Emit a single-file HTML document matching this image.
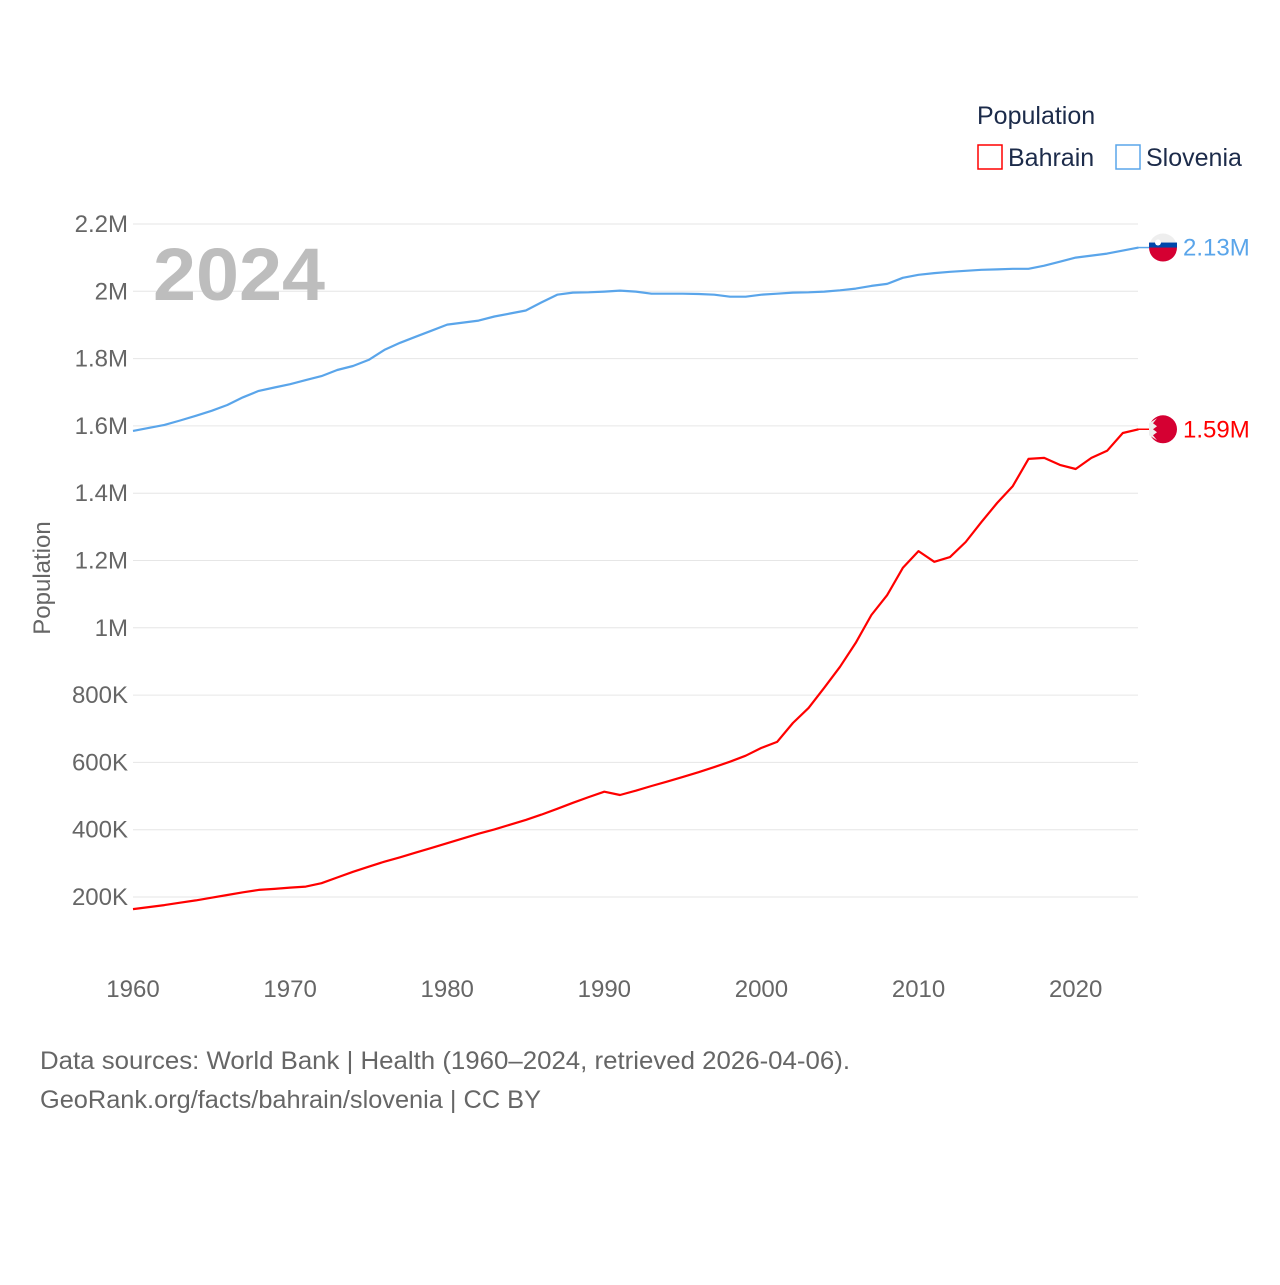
<!DOCTYPE html>
<html><head><meta charset="utf-8"><style>
body{margin:0;background:#fff;font-family:"Liberation Sans",sans-serif}
</style></head><body>
<svg width="1280" height="1280" xmlns="http://www.w3.org/2000/svg" font-family="Liberation Sans, sans-serif">
<g id="grid"></g><g id="yticks"></g><g id="xticks"></g>
<text x="153" y="300" font-size="74" font-weight="bold" fill="#bdbdbd" textLength="172" lengthAdjust="spacingAndGlyphs">2024</text>
<text transform="translate(50,578) rotate(-90)" text-anchor="middle" font-size="24" fill="#666">Population</text>
<g id="lines"></g>
<g>
<text x="977" y="124" font-size="25" fill="#1c2b4a">Population</text>
<g><rect x="978" y="145" width="24" height="24" fill="none" stroke="#ff0000" stroke-width="1.5"/><text x="1008" y="166" font-size="25" fill="#1c2b4a">Bahrain</text></g>
<g><rect x="1116" y="145" width="24" height="24" fill="none" stroke="#5aa5ea" stroke-width="1.5"/><text x="1146" y="166" font-size="25" fill="#1c2b4a">Slovenia</text></g>
</g>
<text x="40" y="1069" font-size="25" fill="#666" textLength="810" lengthAdjust="spacingAndGlyphs">Data sources: World Bank | Health (1960–2024, retrieved 2026-04-06).</text>
<text x="40" y="1108" font-size="25" fill="#666" textLength="501" lengthAdjust="spacingAndGlyphs">GeoRank.org/facts/bahrain/slovenia | CC BY</text>
</svg>
<script>
const years=[];for(let y=1960;y<=2024;y++)years.push(y);
const yTicks=[200000,400000,600000,800000,1000000,1200000,1400000,1600000,1800000,2000000,2200000];
const yTickLabels=["200K","400K","600K","800K","1M","1.2M","1.4M","1.6M","1.8M","2M","2.2M"];
const xTicks=[1960,1970,1980,1990,2000,2010,2020];
const bahrain=[0.164,0.170,0.176,0.183,0.190,0.198,0.206,0.214,0.221,0.224,0.228,0.231,0.241,0.258,0.275,0.290,0.305,0.318,0.332,0.346,0.360,0.374,0.388,0.401,0.415,0.429,0.445,0.462,0.480,0.497,0.513,0.503,0.516,0.530,0.543,0.557,0.571,0.586,0.602,0.620,0.643,0.661,0.717,0.762,0.822,0.884,0.955,1.038,1.097,1.178,1.228,1.196,1.210,1.255,1.314,1.371,1.421,1.502,1.505,1.484,1.472,1.505,1.526,1.579,1.590];
const slovenia=[1.585,1.594,1.603,1.616,1.630,1.645,1.662,1.685,1.704,1.714,1.724,1.736,1.748,1.766,1.778,1.796,1.826,1.847,1.865,1.883,1.901,1.907,1.913,1.925,1.934,1.943,1.967,1.990,1.996,1.997,1.999,2.002,1.999,1.993,1.993,1.993,1.992,1.990,1.984,1.984,1.990,1.993,1.996,1.997,1.999,2.003,2.008,2.016,2.022,2.040,2.049,2.054,2.058,2.061,2.064,2.065,2.067,2.067,2.076,2.088,2.100,2.106,2.112,2.121,2.130];
const X=y=>133+(y-1960)*(1138.5-133)/64;
const Y=v=>964.3-v*336.5/1e6;
const NS="http://www.w3.org/2000/svg";
function mk(t,a,p){const e=document.createElementNS(NS,t);for(const k in a)e.setAttribute(k,a[k]);p.appendChild(e);return e;}
const grid=document.getElementById('grid'),yt=document.getElementById('yticks'),xt=document.getElementById('xticks'),lines=document.getElementById('lines');
yTicks.forEach((v,i)=>{
 const l=mk('line',{x1:133,x2:1138,y1:Y(v),y2:Y(v),stroke:'#e6e6e6','stroke-width':1},grid);
 
 
 const t=mk('text',{x:128,y:Y(v)+8,'text-anchor':'end','font-size':24,fill:'#666'},yt);
 t.textContent=yTickLabels[i];
 
 
});
xTicks.forEach(v=>{
 const t=mk('text',{x:X(v),y:997,'text-anchor':'middle','font-size':24,fill:'#666'},xt);
 t.textContent=v;
 
 
});
function series(vals,color,name,label,flag){
 const d=vals.map((v,i)=>(i?'L':'M')+X(years[i]).toFixed(1)+','+Y(v*1e6).toFixed(1)).join('');
 const p=mk('path',{d:d,fill:'none',stroke:color,'stroke-width':2.2,'stroke-linejoin':'round'},lines);
 
 
 const last=vals[vals.length-1],ly=Y(last*1e6);
 mk('line',{x1:X(2024),x2:1150,y1:ly,y2:ly,stroke:color,'stroke-width':1.5},lines);
 const g=mk('g',{},lines);
 
 
 flag(g,1163,ly);
 const t=mk('text',{x:1183,y:ly+8,'font-size':24,fill:color},lines);
 t.textContent=label;
 
 
}
series(slovenia,'#5aa5ea','slovenia','2.13M',(g,cx,cy)=>{
 mk('circle',{cx:cx,cy:cy,r:14,fill:'#eee'},g);
 mk('path',{d:`M${cx-14},${cy} A14,14 0 0 0 ${cx+14},${cy} Z`,fill:'#d50032'},g);
 mk('rect',{x:cx-14,y:cy-5,width:28,height:5,fill:'#0047ab'},g);
 mk('circle',{cx:cx-5,cy:cy-5,r:3,fill:'#fff'},g);
});
series(bahrain,'#ff0000','bahrain','1.59M',(g,cx,cy)=>{
 mk('circle',{cx:cx,cy:cy,r:14,fill:'#d50032'},g);
 mk('path',{d:`M${cx-14},${cy-6} L${cx-6},${cy-11} L${cx-10},${cy-6} L${cx-6},${cy-3} L${cx-10},${cy} L${cx-6},${cy+3} L${cx-10},${cy+6} L${cx-6},${cy+11} L${cx-14},${cy+6} Z`,fill:'#eee'},g);
});
</script>
</body></html>
